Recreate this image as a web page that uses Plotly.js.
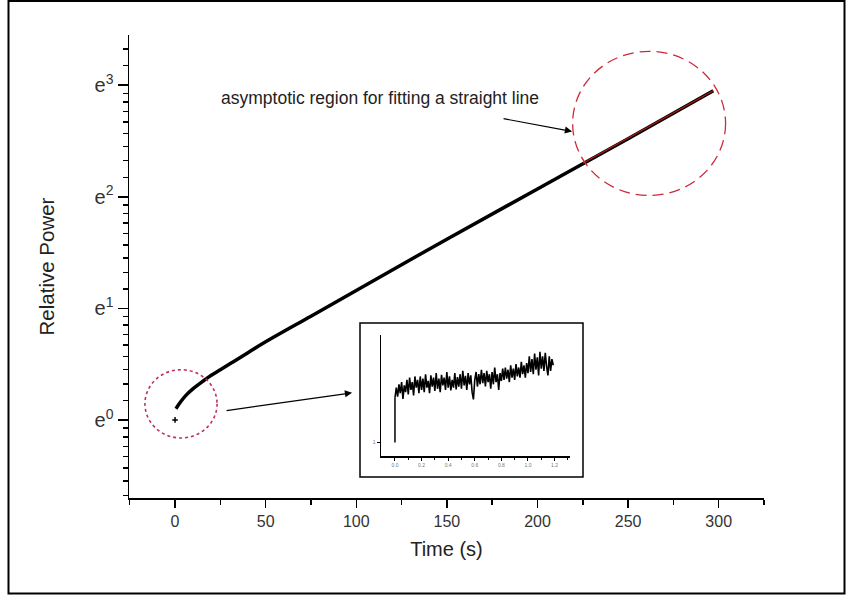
<!DOCTYPE html>
<html>
<head>
<meta charset="utf-8">
<script src="https://cdn.plot.ly/plotly-3.0.1.min.js"></script>
<style>html,body{margin:0;padding:0;background:#fff;}#chart{width:846px;height:596px;}</style>
</head>
<body>
<div id="chart"></div>
<script>
// Main curve: time (s) and natural log of relative power
var timeS = [0.5, 3, 6, 10, 14, 20, 25, 32, 40, 50, 75, 100, 150, 200, 250, 297];
var lnPower = [0.10, 0.16, 0.22, 0.28, 0.33, 0.40, 0.45, 0.52, 0.60, 0.70, 0.93, 1.16, 1.62, 2.07, 2.52, 2.95];
// isolated first sample
var firstT = [0];
var firstLnP = [0];
// straight-line fit in asymptotic region
var fitT = [225, 297];
var fitLnP = [2.30, 2.95];
// y tick labels
var yTickVals = [0, 1, 2, 3];
var yTickText = ['e<sup>0</sup>', 'e<sup>1</sup>', 'e<sup>2</sup>', 'e<sup>3</sup>'];
var xTickVals = [0, 50, 100, 150, 200, 250, 300];
var xTickText = ['0', '50', '100', '150', '200', '250', '300'];
// inset: early-time relative power
var insetT0 = [0, 0];
var insetP0 = [1.0, 1.08];
var insetT = [0.00,0.01,0.02,0.03,0.04,0.05,0.06,0.07,0.08,0.09,0.10,0.11,0.12,0.13,0.14,0.15,0.16,0.17,0.18,0.19,
0.20,0.21,0.22,0.23,0.24,0.25,0.26,0.27,0.28,0.29,0.30,0.31,0.32,0.33,0.34,0.35,0.36,0.37,0.38,0.39,
0.40,0.41,0.42,0.43,0.44,0.45,0.46,0.47,0.48,0.49,0.50,0.51,0.52,0.53,0.54,0.55,0.56,0.57,0.58,0.59,
0.60,0.61,0.62,0.63,0.64,0.65,0.66,0.67,0.68,0.69,0.70,0.71,0.72,0.73,0.74,0.75,0.76,0.77,0.78,0.79,
0.80,0.81,0.82,0.83,0.84,0.85,0.86,0.87,0.88,0.89,0.90,0.91,0.92,0.93,0.94,0.95,0.96,0.97,0.98,0.99,
1.00,1.01,1.02,1.03,1.04,1.05,1.06,1.07,1.08,1.09,1.10,1.11,1.12,1.13,1.14,1.15,1.16,1.17,1.18,1.19];
var insetP = [1.080,1.098,1.082,1.104,1.088,1.108,1.078,1.102,1.090,1.112,
1.086,1.116,1.094,1.108,1.084,1.118,1.098,1.112,1.088,1.118,
1.094,1.114,1.090,1.122,1.098,1.110,1.088,1.120,1.100,1.116,
1.092,1.124,1.096,1.114,1.090,1.121,1.102,1.116,1.094,1.126,
1.098,1.118,1.093,1.112,1.098,1.124,1.095,1.117,1.100,1.122,
1.096,1.128,1.102,1.119,1.094,1.124,1.104,1.120,1.090,1.077,
1.112,1.126,1.100,1.122,1.104,1.130,1.106,1.124,1.100,1.128,
1.108,1.122,1.096,1.126,1.104,1.134,1.108,1.122,1.094,1.124,
1.110,1.132,1.112,1.134,1.114,1.130,1.108,1.138,1.116,1.132,
1.112,1.140,1.118,1.134,1.116,1.144,1.122,1.138,1.116,1.142,
1.124,1.154,1.126,1.149,1.122,1.159,1.130,1.152,1.120,1.162,
1.132,1.154,1.128,1.160,1.136,1.120,1.154,1.128,1.149,1.138];
var insetXTickVals = [0, 0.2, 0.4, 0.6, 0.8, 1.0, 1.2];
var insetXTickText = ['0.0', '0.2', '0.4', '0.6', '0.8', '1.0', '1.2'];

// minor ticks on the log(e) axis: linear subdivisions between powers of e
var yMinor = [];
for (var n = -1; n <= 3; n++) {
  var a = Math.exp(n), b = Math.exp(n + 1);
  for (var k = 1; k <= 8; k++) {
    var v = Math.log(a + k * (b - a) / 9);
    if (v > -0.70 && v < 3.45) yMinor.push(v);
  }
}

var traces = [
  {x: timeS, y: lnPower, mode: 'lines', line: {color: '#000', width: 3.5, shape: 'spline'}, xaxis: 'x', yaxis: 'y', hoverinfo: 'skip'},
  {x: fitT, y: fitLnP, mode: 'lines', line: {color: '#b01818', width: 1.3}, xaxis: 'x', yaxis: 'y', hoverinfo: 'skip'},
  {x: firstT, y: firstLnP, mode: 'markers', marker: {color: '#000', size: 4, symbol: 'cross-thin', line: {color: '#000', width: 1.5}}, xaxis: 'x', yaxis: 'y', hoverinfo: 'skip'},
  {x: insetT0, y: insetP0, mode: 'lines', line: {color: '#000', width: 1.5}, xaxis: 'x2', yaxis: 'y2', hoverinfo: 'skip'},
  {x: insetT, y: insetP, mode: 'lines', line: {color: '#000', width: 1.6}, xaxis: 'x2', yaxis: 'y2', hoverinfo: 'skip'}
];

var fontFam = 'Liberation Sans, Arial, sans-serif';
function px2x(p) { return (p - 129) / 635; }
function px2y(p) { return (498 - p) / 463; }

var layout = {
  width: 846, height: 596,
  margin: {l: 129, r: 82, t: 35, b: 98},
  paper_bgcolor: '#fff', plot_bgcolor: 'rgba(0,0,0,0)',
  showlegend: false,
  font: {family: fontFam, color: '#222'},
  xaxis: {
    range: [-25.4, 325], domain: [0, 1],
    showline: true, linecolor: '#000', linewidth: 1.5,
    ticks: 'outside', ticklen: 8, tickwidth: 1.5, tickcolor: '#000',
    tickmode: 'array', tickvals: xTickVals, ticktext: xTickText,
    tickfont: {size: 16, color: '#333'},
    minor: {ticks: 'outside', ticklen: 5, tickwidth: 1.5, tickcolor: '#000', tickmode: 'array', tickvals: [-25, 25, 75, 125, 175, 225, 275, 325], showgrid: false},
    showgrid: false, zeroline: false,
    title: {text: 'Time (s)', font: {size: 20, color: '#222'}, standoff: 13}
  },
  yaxis: {
    range: [-0.70, 3.45], domain: [0, 1],
    showline: true, linecolor: '#000', linewidth: 1.5,
    ticks: 'outside', ticklen: 10, tickwidth: 1.5, tickcolor: '#000',
    tickmode: 'array', tickvals: yTickVals, ticktext: yTickText,
    tickfont: {size: 20, color: '#333'},
    minor: {ticks: 'outside', ticklen: 5, tickwidth: 1.5, tickcolor: '#000', tickmode: 'array', tickvals: yMinor, showgrid: false},
    showgrid: false, zeroline: false,
    title: {text: 'Relative Power', font: {size: 20.5, color: '#222'}, standoff: 34}
  },
  xaxis2: {
    domain: [px2x(381), px2x(570)], anchor: 'y2', range: [-0.105, 1.316],
    showline: true, linecolor: '#000', linewidth: 1.5,
    ticks: 'outside', ticklen: 3, tickwidth: 1, tickcolor: '#000',
    tickmode: 'array', tickvals: insetXTickVals, ticktext: insetXTickText,
    tickfont: {size: 5, color: '#777'},
    minor: {ticks: 'outside', ticklen: 2, tickwidth: 1, tickcolor: '#000', tickmode: 'array', tickvals: [0.1, 0.3, 0.5, 0.7, 0.9, 1.1, 1.3]},
    showgrid: false, zeroline: false
  },
  yaxis2: {
    domain: [px2y(456), px2y(335)], anchor: 'x2', range: [0.976, 1.192],
    showline: true, linecolor: '#000', linewidth: 1.5,
    ticks: 'outside', ticklen: 3, tickwidth: 1, tickcolor: '#000',
    tickmode: 'array', tickvals: [1], ticktext: ['1'],
    tickfont: {size: 5, color: '#777'},
    showgrid: false, zeroline: false
  },
  shapes: [
    // outer frame
    {type: 'rect', xref: 'paper', yref: 'paper', x0: px2x(8.5), x1: px2x(844.5), y0: px2y(593.5), y1: px2y(1), line: {color: '#000', width: 2}},
    // inset frame
    {type: 'rect', xref: 'paper', yref: 'paper', x0: px2x(360), x1: px2x(583), y0: px2y(477), y1: px2y(323), line: {color: '#000', width: 1.5}, fillcolor: 'rgba(0,0,0,0)'},
    // big dashed ellipse (asymptotic region)
    {type: 'circle', xref: 'x', yref: 'y', x0: 219.4, x1: 303.8, y0: 2.012, y1: 3.304, line: {color: '#cc2a3a', width: 1.3, dash: '11px,6px'}},
    // small dotted ellipse (start)
    {type: 'circle', xref: 'x', yref: 'y', x0: -16.6, x1: 23.2, y0: -0.162, y1: 0.450, line: {color: '#c0305e', width: 1.6, dash: '3px,3px'}}
  ],
  annotations: [
    {x: 113.1, y: 2.883, xref: 'x', yref: 'y', text: 'asymptotic region for fitting a straight line', showarrow: false, xanchor: 'center', yanchor: 'middle', font: {size: 17.5, color: '#222'}},
    {x: 219.1, y: 2.586, xref: 'x', yref: 'y', ax: -70, ay: -13, text: '', showarrow: true, arrowhead: 2, arrowsize: 1.2, arrowwidth: 1.2, arrowcolor: '#000'},
    {x: 97.7, y: 0.243, xref: 'x', yref: 'y', ax: -127, ay: 18, text: '', showarrow: true, arrowhead: 2, arrowsize: 1.2, arrowwidth: 1.2, arrowcolor: '#000'}
  ]
};

Plotly.newPlot('chart', traces, layout, {displayModeBar: false, staticPlot: true});
</script>
</body>
</html>
